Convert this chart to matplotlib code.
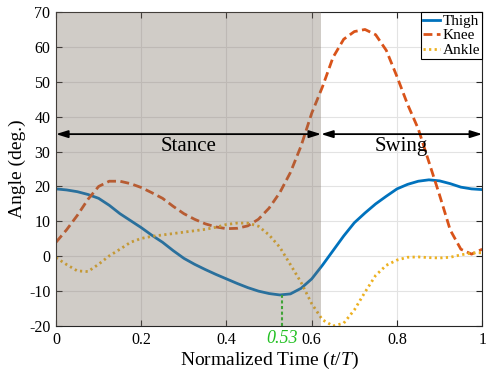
import numpy as np
import matplotlib.pyplot as plt
from matplotlib.patches import Rectangle

plt.rcParams['font.family'] = ['Liberation Serif', 'DejaVu Serif']
plt.rcParams['mathtext.fontset'] = 'custom'
plt.rcParams['mathtext.rm'] = 'Liberation Serif'
plt.rcParams['mathtext.it'] = 'Liberation Serif:italic'
plt.rcParams['axes.unicode_minus'] = False

# normalized gait cycle time
t = [0.0, 0.025, 0.05, 0.075, 0.1, 0.125, 0.15, 0.175, 0.2, 0.225,
     0.25, 0.275, 0.3, 0.325, 0.35, 0.375, 0.4, 0.425, 0.45, 0.475,
     0.5, 0.525, 0.55, 0.575, 0.6, 0.625, 0.65, 0.675, 0.7, 0.725,
     0.75, 0.775, 0.8, 0.825, 0.85, 0.875, 0.9, 0.925, 0.95, 0.975, 1.0]

thigh = [19.3, 19.0, 18.5, 17.7, 16.6, 14.6, 12.2, 10.2, 8.2, 6.0,
         4.0, 1.6, -0.6, -2.3, -3.8, -5.2, -6.5, -7.8, -9.0, -10.0,
         -10.7, -11.1, -10.8, -9.2, -6.5, -2.6, 1.6, 5.8, 9.6, 12.4,
         15.0, 17.2, 19.3, 20.6, 21.5, 21.9, 21.6, 20.8, 19.8, 19.3, 19.1]

knee = [4.0, 7.6, 11.7, 16.3, 20.0, 21.5, 21.5, 20.8, 19.7, 18.2,
        16.6, 14.3, 12.2, 10.6, 9.3, 8.4, 7.9, 8.0, 8.7, 10.6,
        13.8, 18.2, 24.0, 31.6, 41.0, 48.5, 57.0, 62.2, 64.4, 65.0,
        63.5, 59.0, 51.5, 43.5, 36.5, 27.0, 17.5, 7.5, 2.0, 0.6, 2.0]

ankle = [-0.4, -2.4, -4.2, -4.4, -2.3, 0.1, 2.0, 4.0, 5.1, 5.7,
         6.1, 6.5, 6.9, 7.3, 7.7, 8.3, 9.1, 9.5, 9.5, 8.6,
         6.1, 2.6, -2.4, -7.5, -13.6, -18.2, -20.0, -19.2, -15.4, -10.3,
         -5.5, -2.6, -1.1, -0.3, -0.2, -0.4, -0.5, -0.3, 0.4, 0.9, 1.0]

stance_end = 0.622
t_min = 0.53
thigh_min = -11.1

fig = plt.figure(figsize=(4.86, 3.76), dpi=100)
ax = fig.add_axes([0.1152, 0.133, 0.877, 0.835])

ax.plot(t, thigh, color='#0072BD', lw=2, ls='-', label='Thigh')
ax.plot(t, knee, color='#D95319', lw=2, ls=(0, (3.2, 1.6)), label='Knee')
ax.plot(t, ankle, color='#EDB120', lw=2, ls=(0, (0.8, 1.2)), label='Ankle')

# stance phase shading (drawn on top, semi transparent)
ax.add_patch(Rectangle((0, -20), stance_end, 90, facecolor=(121/255, 109/255, 97/255),
                       alpha=0.35, edgecolor='none', zorder=3))

# phase arrows
arrow = dict(arrowstyle='<|-|>,head_length=0.7,head_width=0.22', color='black', lw=1.3,
             shrinkA=0, shrinkB=0)
ax.annotate('', xy=(0, 35), xytext=(stance_end, 35), arrowprops=arrow, zorder=4)
ax.annotate('', xy=(stance_end, 35), xytext=(1.0, 35), arrowprops=arrow, zorder=4)
ax.text(0.31, 31.5, 'Stance', fontsize=15, ha='center', va='center', zorder=5)
ax.text(0.81, 31.5, 'Swing', fontsize=15, ha='center', va='center', zorder=5)

# minimum of thigh angle
ax.plot([t_min, t_min], [-20, thigh_min], color='#22c022', lw=1.5, ls=(0, (1.5, 1.2)), zorder=2.5)
ax.annotate('0.53', xy=(t_min, -20), xytext=(0, -3), textcoords='offset points',
            ha='center', va='top', color='#22c022', fontsize=13, style='italic',
            annotation_clip=False)

ax.set_xlim(0, 1)
ax.set_ylim(-20, 70)
ax.set_xticks([0, 0.2, 0.4, 0.6, 0.8, 1])
ax.set_xticklabels(['0', '0.2', '0.4', '0.6', '0.8', '1'])
ax.set_yticks(range(-20, 71, 10))
ax.tick_params(direction='in', top=True, right=True, labelsize=11.5, length=4,
               color='#262626', pad=4)
ax.grid(True, color='#e3e3e3', lw=0.8)
ax.set_axisbelow(True)
for s in ax.spines.values():
    s.set_color('#262626')
    s.set_linewidth(0.8)

ax.set_xlabel('Normalized Time ($t/T$)', fontsize=14, labelpad=2)
ax.set_ylabel('Angle (deg.)', fontsize=14, labelpad=2)

leg = ax.legend(loc='upper right', fontsize=11, fancybox=False, edgecolor='black',
                framealpha=1, borderaxespad=0, borderpad=0.15, labelspacing=0.05,
                handlelength=1.1, handletextpad=0.15)
leg.get_frame().set_linewidth(0.8)
leg.set_zorder(6)

fig.savefig('out.png', dpi=100)
